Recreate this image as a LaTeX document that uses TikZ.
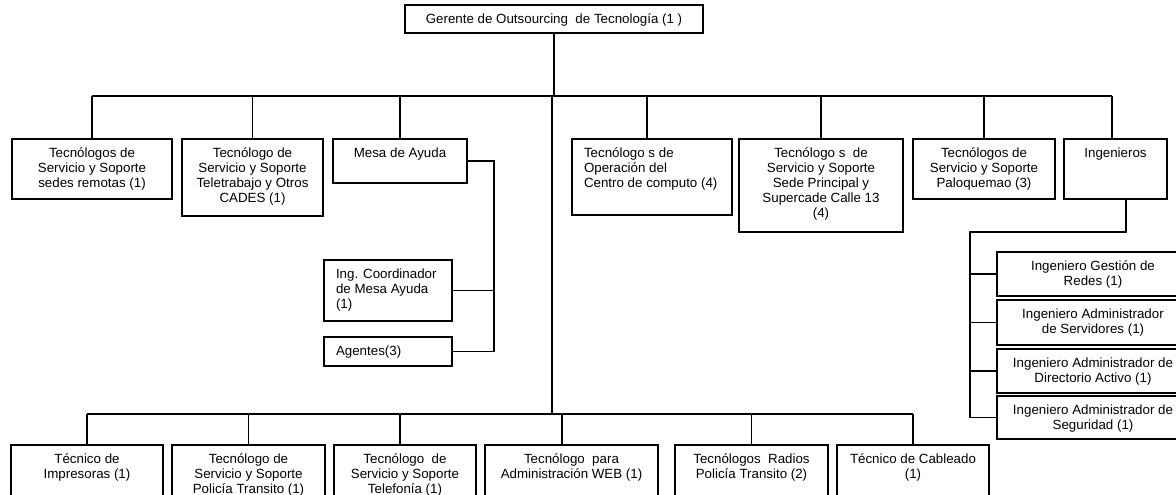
\documentclass[tikz,border=0pt]{standalone}
\usepackage{fontspec}
\setmainfont{Liberation Sans}
\usepackage{tikz}
\usetikzlibrary{calc,positioning}
\tikzset{
  unitbox/.style={draw,line width=0.8pt,inner sep=0pt},
  unittext/.style={inner sep=0pt,font=\fontsize{10}{11.3}\selectfont},
}

\begin{document}
\begin{tikzpicture}[x=0.75pt,y=-0.75pt,line width=0.8pt]
\useasboundingbox (0,0) rectangle (1176,495);
\def\unit#1#2#3#4#5#6{\node[unitbox,minimum width={(#4-#2)*0.75pt},minimum height={(#5-#3)*0.75pt}] (#1) at ({(#2+#4)/2},{(#3+#5)/2}) {};
  \node[unittext,anchor=north,align=center] (#1-t) at ($(#1.north)+(0,8)$) {\strut#6};}
\def\unitl#1#2#3#4#5#6{\node[unitbox,minimum width={(#4-#2)*0.75pt},minimum height={(#5-#3)*0.75pt}] (#1) at ({(#2+#4)/2},{(#3+#5)/2}) {};
  \node[unittext,anchor=north west,align=left] (#1-t) at ($(#1.north west)+(12,8)$) {\strut#6};}
\unit{ger}{405}{5}{703}{33}{Gerente de Outsourcing~ de Tecnología (1 )}
\unit{sedes}{12}{139}{172}{199}{Tecnólogos de\\Servicio y Soporte\\sedes remotas (1)}
\unit{tele}{182}{139}{323}{216}{Tecnólogo de\\Servicio y Soporte\\Teletrabajo y Otros\\CADES (1)}
\unit{mesa}{333}{139}{467}{183}{Mesa de Ayuda}
\unitl{oper}{572}{139}{732}{215}{Tecnólogo s de\\Operación del\\Centro de computo (4)}
\unit{sede}{739}{139}{903}{232}{Tecnólogo s~ de\\Servicio y Soporte\\Sede Principal y\\Supercade Calle 13\\(4)}
\unit{palo}{913}{139}{1055}{199}{Tecnólogos de\\Servicio y Soporte\\Paloquemao (3)}
\unit{ing}{1064}{139}{1167}{199}{Ingenieros}
\unitl{coord}{324}{260}{452}{321}{Ing. Coordinador\\de Mesa Ayuda\\(1)}
\unitl{agen}{324}{337}{452}{366}{Agentes(3)}
\unit{redes}{997}{252}{1189}{296}{Ingeniero Gestión de\\Redes (1)}
\unit{servd}{997}{300}{1189}{345}{Ingeniero Administrador\\de Servidores (1)}
\unit{direc}{997}{349}{1189}{393}{Ingeniero Administrador de\\Directorio Activo (1)}
\unit{segur}{997}{396}{1189}{439}{Ingeniero Administrador de\\Seguridad (1)}
\unit{impr}{11}{445}{163}{520}{Técnico de\\Impresoras (1)}
\unit{poli}{172}{445}{325}{520}{Tecnólogo de\\Servicio y Soporte\\Policía Transito (1)}
\unit{telf}{334}{445}{476}{520}{Tecnólogo~ de\\Servicio y Soporte\\Telefonía (1)}
\unit{web}{485}{445}{658}{520}{Tecnólogo~ para\\Administración WEB (1)}
\unit{radio}{675}{445}{828}{520}{Tecnólogos~ Radios\\Policía Transito (2)}
\unit{cabl}{837}{445}{989}{520}{Técnico de Cableado\\(1)}
\coordinate (topl) at (92,96);
\coordinate (topr) at (1112,96);
\coordinate (operin) at (647,96);
\coordinate (trunk) at (552,96);
\coordinate (botl) at (87,414);
\coordinate (botr) at (913,414);
\coordinate (telfin) at (400,414);
\coordinate (webin) at (562,414);
\coordinate (mesabus) at (494,162);
\coordinate (engbus) at (1126,232);
\coordinate (engspine) at (970,232);
\draw (ger.south) -- (ger.south |- topl);
\draw (topl) -- (topr);
\foreach \n in {sedes,tele,mesa,sede,palo}
  \draw (\n.north |- topl) -- (\n.north);
\draw (operin) -- (operin |- oper.north);
\draw (topr) -- (topr |- ing.north);
\draw (trunk) -- (trunk |- botl);
\draw (botl) -- (botr);
\foreach \n in {impr,poli,radio,cabl}
  \draw (\n.north |- botl) -- (\n.north);
\draw (telfin) -- (telfin |- telf.north);
\draw (webin) -- (webin |- web.north);
\draw (mesa.east) -| (mesabus |- agen.east) -- (agen.east);
\draw (coord.east) -- (mesabus |- coord.east);
\draw (engbus |- ing.south) -- (engbus) -- (engspine) |- (segur.west);
\foreach \n in {redes,servd,direc}
  \draw (engspine |- \n.west) -- (\n.west);
\end{tikzpicture}
\end{document}
